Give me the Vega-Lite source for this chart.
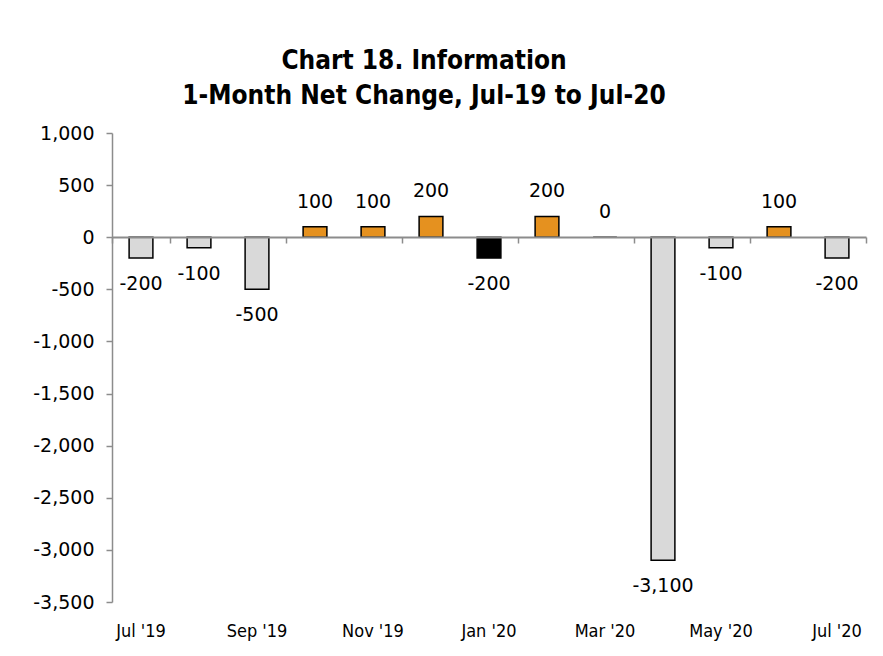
{
  "$schema": "https://vega.github.io/schema/vega-lite/v6.json",
  "width": 754,
  "height": 469,
  "autosize": {"type": "none"},
  "padding": {"left": 112, "top": 133, "right": 17, "bottom": 54},
  "background": "white",
  "config": {
    "view": {"stroke": null},
    "locale": {"number": {"decimal": ".", "thousands": ",", "grouping": [3], "currency": ["$", ""], "minus": "-"}}
  },
  "title": {
    "text": ["Chart 18. Information", "1-Month Net Change, Jul-19 to Jul-20"],
    "font": "DejaVu Sans Condensed, sans-serif",
    "fontSize": 26,
    "fontWeight": "bold",
    "color": "#000000",
    "anchor": "middle",
    "dx": -65,
    "offset": 15,
    "lineHeight": 35
  },
  "data": {
    "values": [
      {"month": "Jul '19", "value": -200, "group": "Negative"},
      {"month": "Aug '19", "value": -100, "group": "Negative"},
      {"month": "Sep '19", "value": -500, "group": "Negative"},
      {"month": "Oct '19", "value": 100, "group": "Positive"},
      {"month": "Nov '19", "value": 100, "group": "Positive"},
      {"month": "Dec '19", "value": 200, "group": "Positive"},
      {"month": "Jan '20", "value": -200, "group": "Highlight"},
      {"month": "Feb '20", "value": 200, "group": "Positive"},
      {"month": "Mar '20", "value": 0, "group": "Positive"},
      {"month": "Apr '20", "value": -3100, "group": "Negative"},
      {"month": "May '20", "value": -100, "group": "Negative"},
      {"month": "Jun '20", "value": 100, "group": "Positive"},
      {"month": "Jul '20", "value": -200, "group": "Negative"}
    ]
  },
  "encoding": {
    "y": {
      "field": "value",
      "type": "quantitative",
      "scale": {"domain": [-3500, 1000], "nice": false, "zero": false},
      "axis": {
        "values": [-3500, -3000, -2500, -2000, -1500, -1000, -500, 0, 500, 1000],
        "format": ",.0f",
        "grid": false,
        "title": null,
        "domainColor": "#8c8c8c",
        "domainWidth": 1.5,
        "tickColor": "#8c8c8c",
        "tickSize": 6,
        "tickWidth": 1.5,
        "labelFont": "DejaVu Sans",
        "labelFontSize": 19,
        "labelColor": "#000000",
        "labelPadding": 12
      }
    }
  },
  "layer": [
    {
      "mark": {"type": "bar", "width": {"band": 0.41}, "stroke": "#000000", "strokeWidth": 1.5},
      "encoding": {
        "color": {
          "field": "group",
          "type": "nominal",
          "scale": {"domain": ["Negative", "Positive", "Highlight"], "range": ["#D9D9D9", "#E5911F", "#000000"]},
          "legend": null
        },
        "x": {
          "field": "month",
          "type": "ordinal",
          "sort": null,
          "scale": {"paddingInner": 0, "paddingOuter": 0},
          "axis": {
            "orient": "bottom",
            "values": ["Jul '19", "Sep '19", "Nov '19", "Jan '20", "Mar '20", "May '20", "Jul '20"],
            "domain": false,
            "ticks": false,
            "labelAngle": 0,
            "labelPadding": 20,
            "labelFont": "DejaVu Sans Condensed",
            "labelFontSize": 18,
            "labelColor": "#000000",
            "title": null
          }
        }
      }
    },
    {
      "transform": [{"filter": "datum.value >= 0"}],
      "mark": {"type": "text", "dy": -25, "font": "DejaVu Sans", "fontSize": 19, "color": "#000000"},
      "encoding": {
        "text": {"field": "value", "type": "quantitative", "format": ",.0f"},
        "x": {
          "field": "month",
          "type": "ordinal",
          "sort": null,
          "axis": {
            "orient": "bottom",
            "offset": -365,
            "values": ["Jul '19", "Sep '19", "Nov '19", "Jan '20", "Mar '20", "May '20", "Jul '20"],
            "labels": false,
            "domain": true,
            "domainColor": "#8c8c8c",
            "domainWidth": 2,
            "ticks": true,
            "tickBand": "extent",
            "tickExtra": false,
            "tickColor": "#8c8c8c",
            "tickSize": 6,
            "tickWidth": 1.5,
            "zindex": 1,
            "title": null
          }
        }
      }
    },
    {
      "transform": [{"filter": "datum.value < 0"}],
      "mark": {"type": "text", "dy": 26, "font": "DejaVu Sans", "fontSize": 19, "color": "#000000"},
      "encoding": {
        "text": {"field": "value", "type": "quantitative", "format": ",.0f"},
        "x": {"field": "month", "type": "ordinal", "sort": null, "axis": null}
      }
    }
  ],
  "resolve": {"axis": {"x": "independent"}}
}
